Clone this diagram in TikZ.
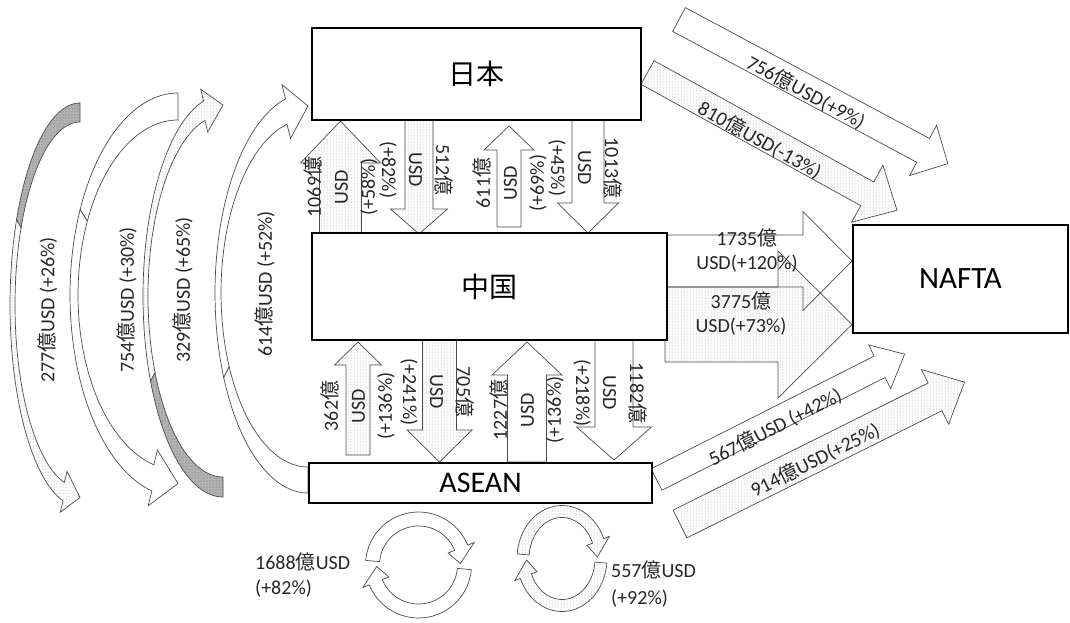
\documentclass[tikz,border=0pt]{standalone}
\usepackage{fontspec}
\setmainfont{Carlito}
\newfontfamily\cjk{Noto Sans CJK JP}
\usetikzlibrary{patterns}
\newcommand\oku{{\cjk 億}}

\newcommand\barrow[8]{%
  \begin{scope}[shift={(#2,#3)},rotate=#4]
    \path[#1] (0,{-(#6)/2}) -- ({#5-#8},{-(#6)/2}) -- ({#5-#8},{-(#7)/2}) -- (#5,0)
      -- ({#5-#8},{(#7)/2}) -- ({#5-#8},{(#6)/2}) -- (0,{(#6)/2}) -- cycle;
  \end{scope}}

\newcommand\carrow[9]{%
  \pgfmathsetmacro\cvA{180+90*(#7)}%
  \pgfmathsetmacro\cvS{180+25*(#7)}%
  \pgfmathsetmacro\cvB{180-76*(#7)}%
  \pgfmathsetmacro\cvT{180-90*(#7)}%
  \pgfmathsetmacro\cvRi{#3-#6}%
  \pgfmathsetmacro\cvSi{#4-#5}%
  \pgfmathsetmacro\cvH{0.45*#5+3}%
  \path[#8] plot[domain=\cvA:\cvS,samples=40,variable=\q] ({#1+#3*cos(\q)},{#2+#4*sin(\q)})
    -- plot[domain=\cvS:\cvA,samples=40,variable=\q] ({#1+\cvRi*cos(\q)},{#2+\cvSi*sin(\q)}) -- cycle;
  \path[#9] plot[domain=\cvS:\cvB,samples=40,variable=\q] ({#1+#3*cos(\q)},{#2+#4*sin(\q)})
    -- ({#1+(#3+\cvH)*cos(\cvB)},{#2+(#4+\cvH)*sin(\cvB)})
    -- ({#1+(#3-#6/2)*cos(\cvT)},{#2+(#4-#5/2)*sin(\cvT)})
    -- ({#1+(\cvRi-\cvH)*cos(\cvB)},{#2+(\cvSi-\cvH)*sin(\cvB)})
    -- plot[domain=\cvB:\cvS,samples=40,variable=\q] ({#1+\cvRi*cos(\q)},{#2+\cvSi*sin(\q)}) -- cycle;}

\newcommand\circarrow[9]{%
  \pgfmathsetmacro\ccRi{#3-#5}\pgfmathsetmacro\ccSi{#4-#5}\pgfmathsetmacro\ccH{0.5*#5}%
  \path[#9] plot[domain=#6:#7,samples=40,variable=\q] ({#1+#3*cos(\q)},{#2+#4*sin(\q)})
   -- ({#1+(#3+\ccH)*cos(#7)},{#2+(#4+\ccH)*sin(#7)})
   -- ({#1+(#3-0.8*#5)*cos(#8)},{#2+(#4-0.8*#5)*sin(#8)})
   -- ({#1+(\ccRi-\ccH)*cos(#7)},{#2+(\ccSi-\ccH)*sin(#7)})
   -- plot[domain=#7:#6,samples=40,variable=\q] ({#1+\ccRi*cos(\q)},{#2+\ccSi*sin(\q)}) -- cycle;}

\begin{document}
\begin{tikzpicture}[x=1pt,y=-1pt,
  box/.style={draw=black, line width=2.8pt, fill=white, inner sep=0pt},
  arr/.style={draw=black!70, line width=0.7pt, line join=miter},
  whitearr/.style={arr, fill=white},
  dotarr/.style={arr, preaction={fill=white}, pattern=dots, pattern color=black!42},
  dotonly/.style={arr, pattern=dots, pattern color=black!42},
  darkarr/.style={arr, preaction={fill=black!30}, pattern=dots, pattern color=black!60},
  lbl/.style={font=\fontsize{20}{27}\selectfont, align=center, inner sep=0pt, text=black!85}]
\useasboundingbox (0,0) rectangle (1070,622);

% curved arrows on the left
\carrow{80}{305}{70}{202}{19}{5}{1}{darkarr}{dotarr}
\carrow{178}{295}{108}{202}{27}{8}{1}{whitearr}{whitearr}
\carrow{223}{296}{80}{201}{20}{5}{-1}{darkarr}{dotarr}
\carrow{308}{293}{93}{200}{26}{6}{-1}{whitearr}{whitearr}

% vertical arrows Japan <-> China
\barrow{dotarr}{340.5}{233}{90}{112}{42}{80}{42}
\barrow{dotarr}{419}{120}{-90}{114}{28}{57}{25}
\barrow{whitearr}{509}{227}{90}{101}{24}{50}{24}
\barrow{whitearr}{588}{117}{-90}{116}{32}{61}{30}
% vertical arrows China <-> ASEAN
\barrow{dotarr}{358}{455}{90}{113}{24}{47}{23}
\barrow{dotarr}{439.5}{340}{-90}{122}{34}{65}{32}
\barrow{whitearr}{527}{462}{90}{120}{39}{70}{33}
\barrow{whitearr}{614}{340}{-90}{120}{38}{75}{33}

% arrows to NAFTA
\barrow{whitearr}{679}{19.5}{-28.2}{305}{27}{57}{28}
\barrow{dotarr}{647.5}{72.5}{-28.9}{285}{27}{65}{34}
\barrow{whitearr}{665}{261}{0}{187}{52}{99}{49}
\barrow{dotonly}{665}{324.5}{0}{187}{75}{147}{74}
\barrow{whitearr}{656.5}{479.5}{26.8}{278}{24}{49}{28}
\barrow{dotarr}{680}{524}{26.5}{318}{31}{61}{33}

% circular arrows
\circarrow{418.5}{565}{53}{53}{14}{185}{338}{358}{whitearr}
\circarrow{418.5}{565}{53}{53}{14}{5}{158}{178}{whitearr}
\circarrow{562}{558.5}{45}{53}{12}{185}{338}{358}{dotarr}
\circarrow{562}{558.5}{45}{53}{12}{5}{158}{178}{dotarr}

% boxes
\node[box, minimum width=329pt, minimum height=92pt] (jp) at (476.5,74) {\fontsize{28}{30}\selectfont\cjk 日本};
\node[box, minimum width=355pt, minimum height=107pt] (cn) at (489.5,286.5) {\fontsize{28}{30}\selectfont\cjk 中国};
\node[box, minimum width=343pt, minimum height=40pt] (asean) at (480.5,483) {\fontsize{30}{32}\selectfont ASEAN};
\node[box, minimum width=215pt, minimum height=108pt] (nafta) at (960.5,279) {\fontsize{31}{33}\selectfont NAFTA};

% vertical labels
\node[lbl, rotate=90] (l1) at (341,187) {1069\oku\\USD\\(+58\%)};
\node[lbl, rotate=-90] (l2) at (416,170) {512\oku\\USD\\(+82\%)};
\node[lbl, rotate=90] (l3) at (510,183) {611\oku\\USD\\(+69\%)};
\node[lbl, rotate=-90] (l4) at (585,168) {1013\oku\\USD\\(+45\%)};
\node[lbl, rotate=90] (l5) at (358,406) {362\oku\\USD\\(+136\%)};
\node[lbl, rotate=-90] (l6) at (437,392) {705\oku\\USD\\(+241\%)};
\node[lbl, rotate=90] (l7) at (527,410) {1227\oku\\USD\\(+136\%)};
\node[lbl, rotate=-90] (l8) at (610,393) {1182\oku\\USD\\(+218\%)};

% curved labels
\node[lbl, rotate=90] (c1) at (47.5,310) {277\oku USD (+26\%)};
\node[lbl, rotate=90] (c2) at (127,300) {754\oku USD (+30\%)};
\node[lbl, rotate=90] (c3) at (183,290) {329\oku USD (+65\%)};
\node[lbl, rotate=90] (c4) at (265,284) {614\oku USD (+52\%)};

% NAFTA labels
\node[lbl, rotate=-28.2] (n1) at (806,92) {756\oku USD(+9\%)};
\node[lbl, rotate=-29] (n2) at (760,140) {810\oku USD(-13\%)};
\node[lbl, font=\fontsize{20}{24}\selectfont] (n3) at (747,251) {1735\oku\\USD(+120\%)};
\node[lbl, font=\fontsize{20}{24}\selectfont] (n4) at (741,314) {3775\oku\\USD(+73\%)};
\node[lbl, rotate=27] (n5) at (775,427) {567\oku USD (+42\%)};
\node[lbl, rotate=26.5] (n6) at (815,460) {914\oku USD(+25\%)};

% intra-regional labels
\node[lbl, align=left, anchor=west, font=\fontsize{20}{25}\selectfont] (b1) at (255,575.5) {1688\oku USD\\(+82\%)};
\node[lbl, align=left, anchor=west, font=\fontsize{20}{27}\selectfont] (b2) at (611,584.5) {557\oku USD\\(+92\%)};
\end{tikzpicture}
\end{document}
